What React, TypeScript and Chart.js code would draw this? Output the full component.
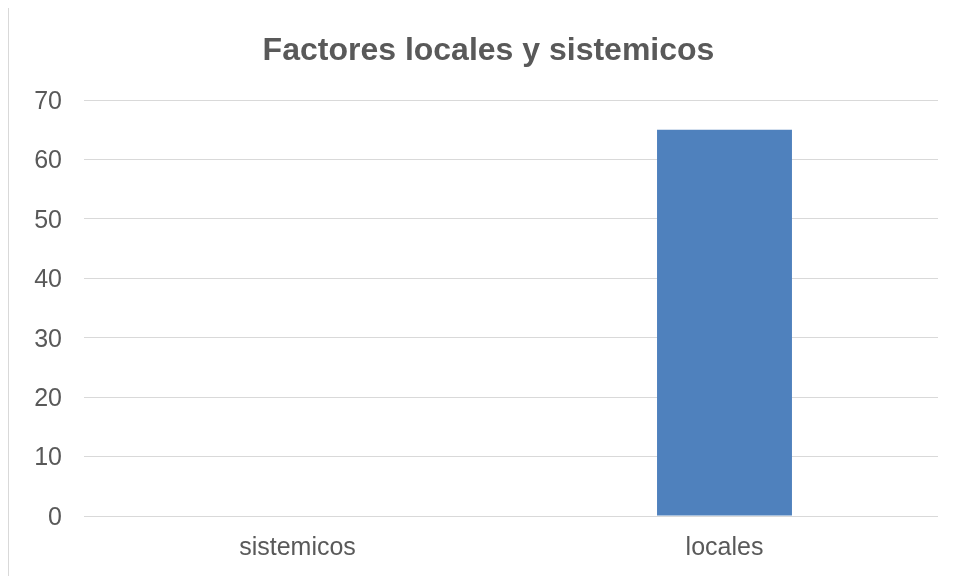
import React, { useEffect, useRef } from "react";
import { Chart, registerables } from "chart.js";

Chart.register(...registerables);

const titleText = "Factores locales y sistemicos";
const categories = ["sistemicos", "locales"];
const values = [0, 65];
const yMin = 0;
const yMax = 70;
const yStep = 10;

export default function App() {
  const ref = useRef<HTMLCanvasElement | null>(null);

  useEffect(() => {
    if (!ref.current) return;
    const font = "'Liberation Sans', Arial, sans-serif";
    const chart = new Chart(ref.current, {
      type: "bar",
      data: {
        labels: categories,
        datasets: [
          {
            data: values,
            backgroundColor: "#4F81BD",
            borderWidth: 0,
            categoryPercentage: 1,
            barPercentage: 0.316,
            yAxisID: "y",
          },
        ],
      },
      options: {
        animation: false,
        responsive: false,
        maintainAspectRatio: false,
        layout: { padding: { left: 0, right: 0, top: 0, bottom: 0 } },
        plugins: {
          legend: { display: false },
          tooltip: { enabled: false },
          title: {
            display: true,
            text: titleText,
            color: "#595959",
            font: { family: font, size: 32, weight: "bold" },
            padding: { top: 26, bottom: 29.6 },
          },
        },
        scales: {
          x: {
            grid: { display: false, drawTicks: false },
            border: { display: false },
            ticks: {
              color: "#595959",
              font: { family: font, size: 25 },
              padding: 17,
            },
            afterFit: (scale: any) => {
              scale.height = 90;
            },
          },
          y: {
            position: "left",
            min: yMin,
            max: yMax,
            grid: { color: "#d9d9d9", lineWidth: 1, drawTicks: false },
            border: { display: false },
            ticks: {
              stepSize: yStep,
              color: "#595959",
              font: { family: font, size: 25 },
              padding: 22,
              labelOffset: 2,
            },
            afterFit: (scale: any) => {
              scale.width = 75;
            },
          },
          yRight: {
            position: "right",
            min: yMin,
            max: yMax,
            grid: { display: false, drawTicks: false },
            border: { display: false },
            ticks: { display: false },
            afterFit: (scale: any) => {
              scale.width = 30;
            },
          },
        },
      },
    });
    return () => chart.destroy();
  }, []);

  return (
    <div
      style={{
        position: "relative",
        marginTop: -3,
        width: 947,
        height: 571,
        overflow: "hidden",
        borderLeft: "1px solid #d9d9d9",
        borderTop: "1px solid #d9d9d9",
        boxSizing: "border-box",
        background: "#ffffff",
      }}
    >
      <canvas
        ref={ref}
        width={959}
        height={600}
        style={{ position: "absolute", left: 0, top: 0, width: 959, height: 600 }}
      />
    </div>
  );
}
